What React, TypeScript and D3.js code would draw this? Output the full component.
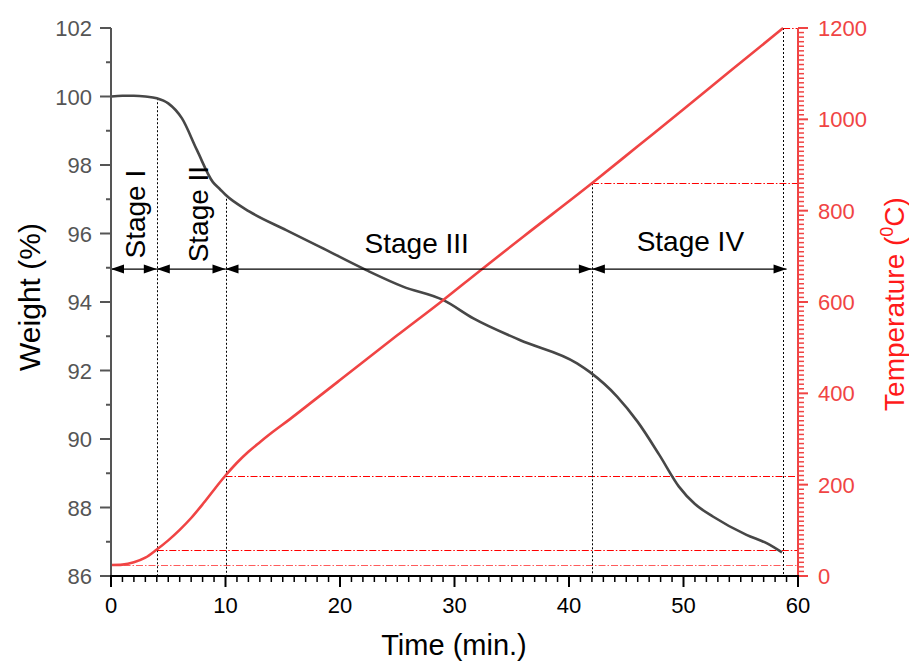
import React from 'react';
import * as d3 from 'd3';

// weight loss curve (TGA)
const weightTime = [0, 1, 2, 3, 4, 5, 6.2, 7.5, 8.9, 9.5, 10, 12.1, 15.3, 18.25, 22.3, 25.5, 29, 31.65, 35.7, 40.7, 41.8, 44.2, 46, 47.9, 49.6, 51, 52.6, 55.5, 57.3, 58.6];
const weightValue = [100.0, 100.02, 100.02, 100.0, 99.95, 99.8, 99.36, 98.44, 97.5, 97.3, 97.13, 96.64, 96.1, 95.61, 94.93, 94.45, 94.06, 93.52, 92.89, 92.21, 91.96, 91.24, 90.5, 89.53, 88.61, 88.1, 87.73, 87.2, 86.95, 86.69];

// furnace temperature
const tempTime = [0, 1, 2, 3, 4, 5, 6, 7, 8, 9, 10, 11, 12, 13, 14, 15.6, 17.7, 20, 25, 29, 32.2, 36, 42, 46, 50, 54, 58.7];
const tempValue = [24, 25, 30, 40, 58, 78, 101, 127, 157, 189, 220, 248, 272, 293, 313, 343, 384, 429, 527, 604, 668, 743, 860, 941, 1022, 1104, 1200];

// stage boundaries
const stageNames = ['Stage I', 'Stage II', 'Stage III', 'Stage IV'];
const stageBounds = [0, 4, 10, 42, 59];
const arrowWeight = 94.96;
// vertical guide lines: time, top in weight units or temperature units
const guideTime = [4, 10, 42, 58.7];
const guideTopWeight = [99.95, 97.13, null, null];
const guideTopTemp = [null, null, 860, 1200];
// horizontal temperature guides
const levelTemp = [24, 58, 220, 860, 1200];
const levelFrom = [0, 4, 10, 42, 58.7];

const weightTicks = d3.range(86, 103, 2);
const weightMinor = d3.range(87, 102, 2);
const timeTicks = d3.range(0, 61, 10);
const timeMinor = d3.range(0, 61, 1).filter(d => d % 10 !== 0);
const tempTicks = d3.range(0, 1201, 200);
const tempMinor = d3.range(0, 1201, 10).filter(d => d % 200 !== 0);

const App = () => {
  const width = 909;
  const height = 661;
  const left = 111;
  const right = 798;
  const top = 28;
  const bottom = 576;
  const font = '"Liberation Sans", Arial, sans-serif';
  const gray = '#555555';
  const red = '#f04444';

  const x = d3.scaleLinear().domain([0, 60]).range([left, right]);
  const yW = d3.scaleLinear().domain([86, 102]).range([bottom, top]);
  const yT = d3.scaleLinear().domain([0, 1200]).range([bottom, top]);

  const weightLine = d3
    .line<number>()
    .x((d, i) => x(weightTime[i]))
    .y(d => yW(d))
    .curve(d3.curveMonotoneX);
  const tempLine = d3
    .line<number>()
    .x((d, i) => x(tempTime[i]))
    .y(d => yT(d))
    .curve(d3.curveMonotoneX);

  const ay = yW(arrowWeight);
  const headL = 13;
  const headW = 4.5;

  const labelPos = [
    { rot: true, t: 2.1, off: -24 },
    { rot: true, t: 7.6, off: -24 },
    { rot: false, t: 26.7, off: -16 },
    { rot: false, t: 50.6, off: -18 },
  ];

  return (
    <svg
      width={width}
      height={height}
      viewBox={`0 0 ${width} ${height}`}
      style={{ position: 'absolute', left: 0, top: 0, background: '#fff' }}
      fontFamily={font}
    >
      {/* horizontal dash-dot temperature levels */}
      {levelTemp.map((d, i) => (
        <line
          key={`lvl-${i}`}
          x1={x(levelFrom[i])}
          x2={right}
          y1={Math.round(yT(d)) + 0.5}
          y2={Math.round(yT(d)) + 0.5}
          stroke={i === 0 ? '#ff5c5c' : '#ff0000'}
          strokeWidth={1.2}
          strokeDasharray='7,2,1.5,2'
        />
      ))}

      {/* vertical dotted guides */}
      {guideTime.map((t, i) => (
        <line
          key={`guide-${i}`}
          x1={Math.round(x(t)) + 0.5}
          x2={Math.round(x(t)) + 0.5}
          y1={guideTopWeight[i] !== null ? yW(guideTopWeight[i] as number) : yT(guideTopTemp[i] as number)}
          y2={bottom}
          stroke='#000'
          strokeWidth={1}
          strokeDasharray='2,2'
        />
      ))}

      {/* curves */}
      <path d={weightLine(weightValue) || ''} fill='none' stroke='#474747' strokeWidth={2.6} />
      <path d={tempLine(tempValue) || ''} fill='none' stroke={red} strokeWidth={2.6} />

      {/* stage arrows */}
      {stageNames.map((name, i) => {
        const x1 = x(stageBounds[i]);
        const x2 = x(stageBounds[i + 1]);
        return (
          <g key={`arrow-${i}`}>
            <line x1={x1} x2={x2} y1={ay} y2={ay} stroke='#000' strokeWidth={1.2} />
            <polygon
              points={`${x1},${ay} ${x1 + headL},${ay - headW} ${x1 + headL},${ay + headW}`}
              fill='#000'
            />
            <polygon
              points={`${x2},${ay} ${x2 - headL},${ay - headW} ${x2 - headL},${ay + headW}`}
              fill='#000'
            />
          </g>
        );
      })}
      {stageNames.map((name, i) =>
        labelPos[i].rot ? (
          <text
            key={`stage-${i}`}
            transform={`translate(${x(labelPos[i].t) + 10},${ay - 55}) rotate(-90)`}
            textAnchor='middle'
            fontSize={28}
            fill='#000'
          >
            {name}
          </text>
        ) : (
          <text
            key={`stage-${i}`}
            x={x(labelPos[i].t)}
            y={ay + labelPos[i].off}
            textAnchor='middle'
            fontSize={28}
            fill='#000'
          >
            {name}
          </text>
        )
      )}

      {/* left axis */}
      <line x1={left} x2={left} y1={top} y2={bottom} stroke={gray} strokeWidth={2} />
      {weightTicks.map(d => (
        <g key={`wt-${d}`}>
          <line x1={left - 11} x2={left} y1={yW(d)} y2={yW(d)} stroke={gray} strokeWidth={2} />
          <text x={left - 19} y={yW(d) + 8} textAnchor='end' fontSize={22} fill={gray}>
            {d}
          </text>
        </g>
      ))}
      {weightMinor.map(d => (
        <line key={`wm-${d}`} x1={left - 5} x2={left} y1={yW(d)} y2={yW(d)} stroke={gray} strokeWidth={2} />
      ))}
      <text transform={`translate(40,297) rotate(-90)`} textAnchor='middle' fontSize={30} fill='#000'>
        Weight (%)
      </text>

      {/* right axis */}
      <line x1={right} x2={right} y1={top} y2={bottom} stroke={red} strokeWidth={2} />
      {tempTicks.map(d => (
        <g key={`tt-${d}`}>
          <line x1={right} x2={right + 10} y1={yT(d)} y2={yT(d)} stroke={red} strokeWidth={2} />
          <text x={right + 20} y={yT(d) + 8} textAnchor='start' fontSize={22} fill={red}>
            {d}
          </text>
        </g>
      ))}
      {tempMinor.map(d => (
        <line key={`tm-${d}`} x1={right} x2={right + 6} y1={yT(d)} y2={yT(d)} stroke={red} strokeWidth={1.5} />
      ))}
      <text transform={`translate(904,304) rotate(-90)`} textAnchor='middle' fontSize={28} fill='#ff1a1a'>
        Temperature (
        <tspan dy={-11} fontSize={18}>
          0
        </tspan>
        <tspan dy={11}>C)</tspan>
      </text>

      {/* bottom axis */}
      <line x1={left - 1} x2={right + 1} y1={bottom} y2={bottom} stroke='#000' strokeWidth={2} />
      {timeTicks.map(d => (
        <g key={`xt-${d}`}>
          <line x1={x(d)} x2={x(d)} y1={bottom} y2={bottom + 11} stroke='#000' strokeWidth={2} />
          <text x={x(d)} y={613} textAnchor='middle' fontSize={22} fill='#000'>
            {d}
          </text>
        </g>
      ))}
      {timeMinor.map(d => (
        <line key={`xm-${d}`} x1={x(d)} x2={x(d)} y1={bottom} y2={bottom + 6} stroke='#000' strokeWidth={1.5} />
      ))}
      <text x={454} y={655} textAnchor='middle' fontSize={29} fill='#000'>
        Time (min.)
      </text>
    </svg>
  );
};

export default App;
